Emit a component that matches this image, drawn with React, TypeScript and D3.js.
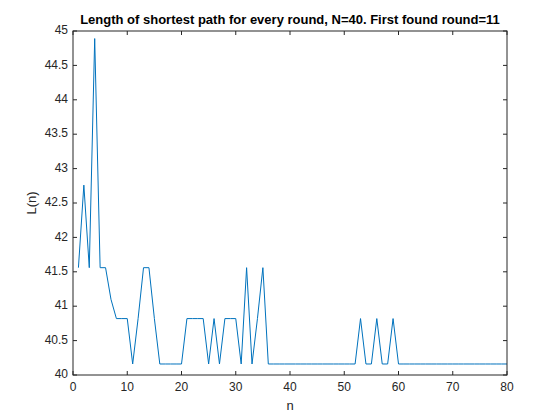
import React from "react";
import * as d3 from "d3";

const rounds = d3.range(1, 81);
const lengths = [
  41.56, 42.76, 41.56, 44.89, 41.56, 41.56, 41.1, 40.82, 40.82, 40.82,
  40.16, 40.82, 41.56, 41.56, 40.82, 40.16, 40.16, 40.16, 40.16, 40.16,
  40.82, 40.82, 40.82, 40.82, 40.16, 40.82, 40.16, 40.82, 40.82, 40.82,
  40.16, 41.56, 40.16, 40.82, 41.56, 40.16, 40.16, 40.16, 40.16, 40.16,
  40.16, 40.16, 40.16, 40.16, 40.16, 40.16, 40.16, 40.16, 40.16, 40.16,
  40.16, 40.16, 40.82, 40.16, 40.16, 40.82, 40.16, 40.16, 40.82, 40.16,
  40.16, 40.16, 40.16, 40.16, 40.16, 40.16, 40.16, 40.16, 40.16, 40.16,
  40.16, 40.16, 40.16, 40.16, 40.16, 40.16, 40.16, 40.16, 40.16, 40.16,
];
const xTicks = [0, 10, 20, 30, 40, 50, 60, 70, 80];
const yTicks = [40, 40.5, 41, 41.5, 42, 42.5, 43, 43.5, 44, 44.5, 45];

export default function App() {
  const left = 73, right = 507, top = 31, bottom = 375;
  const x = d3.scaleLinear().domain([0, 80]).range([left, right]);
  const y = d3.scaleLinear().domain([40, 45]).range([bottom, top]);
  const line = d3
    .line<number>()
    .x((_, i) => x(rounds[i]))
    .y((d) => y(d));
  const font = "Arial, 'Liberation Sans', sans-serif";
  const axisColor = "#262626";

  return (
    <svg width={560} height={420} style={{ position: "fixed", top: 0, left: 0, background: "#fff" }} fontFamily={font}>
      <rect x={0} y={0} width={560} height={420} fill="#fff" />
      <path d={line(lengths) || ""} fill="none" stroke="#0072bd" strokeWidth={1} />
      <rect x={left} y={top} width={right - left} height={bottom - top} fill="none" stroke={axisColor} strokeWidth={1} />
      {xTicks.map((t) => (
        <g key={t}>
          <line x1={x(t)} x2={x(t)} y1={bottom} y2={bottom - 4} stroke={axisColor} />
          <line x1={x(t)} x2={x(t)} y1={top} y2={top + 4} stroke={axisColor} />
          <text x={x(t)} y={bottom + 16} fontSize={12} fill={axisColor} textAnchor="middle">{t}</text>
        </g>
      ))}
      {yTicks.map((t) => (
        <g key={t}>
          <line x1={left} x2={left + 4} y1={y(t)} y2={y(t)} stroke={axisColor} />
          <line x1={right} x2={right - 4} y1={y(t)} y2={y(t)} stroke={axisColor} />
          <text x={left - 5} y={y(t)} fontSize={12} fill={axisColor} textAnchor="end" dominantBaseline="middle">{t}</text>
        </g>
      ))}
      <text x={(left + right) / 2} y={top - 7} fontSize={13} fontWeight="bold" textAnchor="middle" fill="#000">
        Length of shortest path for every round, N=40. First found round=11
      </text>
      <text x={(left + right) / 2} y={bottom + 35} fontSize={13} textAnchor="middle" fill={axisColor}>n</text>
      <text transform={`translate(${left - 37},${(top + bottom) / 2}) rotate(-90)`} fontSize={13} textAnchor="middle" fill={axisColor}>L(n)</text>
    </svg>
  );
}
